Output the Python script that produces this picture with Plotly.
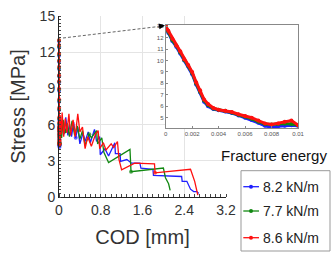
import plotly.graph_objects as go

# ---------------- data ----------------
series_names = ["8.2 kN/m", "7.7 kN/m", "8.6 kN/m"]
series_colors = ["#1f1fff", "#118811", "#ff1010"]

# early (post-peak, zoomed) part, COD in mm
early_x = [0, 0.0002, 0.0005, 0.0008, 0.0011, 0.0014, 0.0017, 0.002, 0.0023, 0.0026,
           0.0029, 0.0032, 0.0036, 0.004, 0.0045, 0.005, 0.0055, 0.006, 0.0065, 0.007,
           0.0075, 0.008, 0.0085, 0.009, 0.0095, 0.01]
blue_early_y = [12.9, 12.4, 11.7, 11.2, 10.6, 10.0, 9.5, 8.8, 7.9, 7.2, 6.4, 6.0, 5.75,
                5.65, 5.55, 5.4, 5.2, 5.0, 4.8, 4.55, 4.3, 4.15, 4.25, 4.3, 4.35, 4.3]
green_early_y = [13.0, 12.5, 11.8, 11.3, 10.7, 10.05, 9.55, 8.9, 8.0, 7.3, 6.5, 6.1, 5.8,
                 5.7, 5.6, 5.45, 5.25, 5.1, 4.9, 4.65, 4.45, 4.4, 4.45, 4.5, 4.45, 4.35]
red_early_y = [13.0, 12.6, 11.9, 11.3, 10.8, 10.1, 9.6, 9.0, 8.1, 7.4, 6.6, 6.2, 5.85,
               5.7, 5.6, 5.5, 5.3, 5.15, 5.0, 4.75, 4.5, 4.4, 4.5, 4.65, 4.75, 4.35]

# later (softening) part
blue_late_x = [0.02, 0.04, 0.07, 0.10, 0.13, 0.17, 0.20, 0.24, 0.28, 0.32, 0.36, 0.40, 0.46,
               0.50, 0.56, 0.60, 0.68, 0.72, 0.78, 0.79, 0.88, 0.95, 1.07, 1.08, 1.17, 1.18,
               1.30, 1.39, 1.55, 1.57, 1.80, 1.81, 2.35, 2.36, 2.45, 2.52, 2.58, 2.64, 2.68]
blue_late_y = [6.4, 5.0, 6.3, 5.2, 6.6, 5.1, 6.0, 5.0, 6.2, 4.9, 5.8, 4.4, 5.3,
               4.6, 5.4, 4.5, 5.6, 4.6, 5.0, 3.5, 4.0, 3.4, 4.5, 3.6, 3.6, 2.95,
               3.1, 2.8, 2.8, 2.4, 2.3, 1.8, 1.7, 1.3, 1.3, 0.65, 0.45, 0.45, 0.3]
green_late_x = [0.02, 0.05, 0.08, 0.12, 0.16, 0.20, 0.25, 0.30, 0.35, 0.40, 0.45, 0.50, 0.58,
                0.62, 0.72, 0.74, 0.82, 0.86, 0.95, 1.36, 1.38, 2.00, 2.04, 2.10, 2.13]
green_late_y = [6.0, 4.9, 6.4, 5.3, 6.1, 5.0, 6.3, 5.1, 5.9, 4.8, 5.5, 4.3, 5.2,
                4.9, 5.5, 4.4, 4.9, 3.7, 2.85, 3.95, 2.1, 2.4, 1.6, 1.1, 0.55]
red_late_x = [0.02, 0.04, 0.06, 0.09, 0.12, 0.15, 0.19, 0.22, 0.27, 0.31, 0.36, 0.40, 0.45,
              0.50, 0.55, 0.62, 0.70, 0.75, 0.78, 0.85, 0.90, 1.00, 1.05, 1.12, 1.15, 1.20,
              1.45, 1.83, 1.84, 2.52, 2.60, 2.64, 2.66]
red_late_y = [6.8, 5.2, 7.0, 5.0, 6.5, 5.3, 6.9, 5.1, 6.4, 5.0, 6.9, 5.4, 5.8,
              4.0, 5.0, 4.2, 5.2, 5.5, 4.0, 4.5, 3.9, 4.4, 4.1, 4.6, 3.1, 2.25,
              2.8, 2.75, 2.0, 2.3, 1.3, 0.4, 0.15]

# main-panel markers on the late part (index of marked points)
blue_marks = [9]
green_marks = [12, 20]
red_marks = [28]

x_ticks_main = [0, 0.8, 1.6, 2.4, 3.2]
y_ticks_main = [0, 3, 6, 9, 12, 15]
x_ticks_inset = [0, 0.002, 0.004, 0.006, 0.008, 0.01]
x_ticks_inset_text = ["0", "0.002", "0.004", "0.006", "0.008", "0.01"]
y_ticks_inset = [5, 6, 7, 8, 9, 10, 11, 12, 13]

legend_title = "Fracture energy"
x_title = "COD [mm]"
y_title = "Stress [MPa]"

# ---------------- figure ----------------
W, H = 332, 257
ML, MR, MT, MB = 59, 34, 16, 60
PW, PH = W - ML - MR, H - MT - MB


def px(xp):
    return (xp - ML) / PW


def py(yp):
    return (H - MB - yp) / PH


fig = go.Figure()

early_ys = [blue_early_y, green_early_y, red_early_y]
late_xs = [blue_late_x, green_late_x, red_late_x]
late_ys = [blue_late_y, green_late_y, red_late_y]
marks = [blue_marks, green_marks, red_marks]

for name, col, ey, lx, ly, mk in zip(series_names, series_colors, early_ys, late_xs, late_ys, marks):
    xs = list(early_x) + list(lx)
    ys = list(ey) + list(ly)
    sizes = [4] * len(early_x) + [4 if i in mk else 0 for i in range(len(lx))]
    fig.add_trace(go.Scatter(
        x=xs, y=ys, mode="lines+markers", name=name,
        line=dict(color=col, width=1.3),
        marker=dict(color=col, size=sizes, line=dict(width=0)),
        xaxis="x", yaxis="y", showlegend=False, cliponaxis=False,
    ))

for name, col, ey in zip(series_names, series_colors, early_ys):
    fig.add_trace(go.Scatter(
        x=early_x, y=ey, mode="lines+markers", name=name,
        line=dict(color=col, width=3),
        marker=dict(color=col, size=4, line=dict(width=0)),
        xaxis="x2", yaxis="y2", showlegend=False,
    ))

FONT = "Liberation Sans, Arial, sans-serif"
axis_font = dict(family=FONT, size=14, color="#333333")
title_font = dict(family=FONT, size=20, color="#333333")

fig.update_layout(
    width=W, height=H,
    margin=dict(l=ML, r=MR, t=MT, b=MB, autoexpand=False),
    paper_bgcolor="white", plot_bgcolor="white",
    font=dict(family=FONT, color="#333333"),
    showlegend=False,
    xaxis=dict(
        domain=[0, px(226)], range=[0, 3.2], tickvals=x_ticks_main,
        ticktext=[("%g" % v) for v in x_ticks_main],
        showgrid=True, gridcolor="#e4e4e4", gridwidth=1, zeroline=False,
        showline=True, linecolor="#222222", linewidth=1,
        ticks="", tickfont=axis_font,
        minor=dict(dtick=0.1, ticks="inside", ticklen=3, tickcolor="#444444", showgrid=False),
        title=dict(text=x_title, font=title_font, standoff=13),
        anchor="y",
    ),
    yaxis=dict(
        domain=[0, 1], range=[0, 15], tickvals=y_ticks_main,
        showgrid=True, gridcolor="#e4e4e4", gridwidth=1, zeroline=False,
        showline=True, linecolor="#222222", linewidth=1,
        ticks="", tickfont=axis_font,
        minor=dict(dtick=0.3, ticks="inside", ticklen=2, tickcolor="#444444", showgrid=False),
        title=dict(text=y_title, font=title_font, standoff=8),
        anchor="x",
    ),
    xaxis2=dict(
        domain=[px(165.7), 1], range=[0, 0.01], tickvals=x_ticks_inset,
        ticktext=x_ticks_inset_text,
        showgrid=False, zeroline=False, showline=True, mirror=True,
        linecolor="#888888", linewidth=1, ticks="inside", ticklen=2, tickcolor="#888888",
        tickfont=dict(family=FONT, size=6, color="#555555"),
        anchor="y2",
    ),
    yaxis2=dict(
        domain=[py(128), py(25)], range=[4.1, 13.1], tickvals=y_ticks_inset,
        showgrid=False, zeroline=False, showline=True, mirror=True,
        linecolor="#888888", linewidth=1, ticks="inside", ticklen=2, tickcolor="#888888",
        tickfont=dict(family=FONT, size=6, color="#555555"),
        anchor="x2",
    ),
)

# dashed connector from main peak to inset corner
fig.add_shape(type="line", xref="paper", yref="paper",
              x0=px(63), y0=py(38), x1=px(163), y1=py(26),
              line=dict(color="#666666", width=1, dash="3px,2px"))
fig.add_annotation(xref="paper", yref="paper", x=px(165), y=py(25.5), text="",
                   showarrow=True, arrowhead=2, arrowsize=1, arrowwidth=1.2,
                   arrowcolor="black", ax=-7, ay=1)

# legend (title above a framed box)
fig.add_annotation(xref="paper", yref="paper", x=px(274), y=py(155),
                   text=legend_title, showarrow=False, xanchor="center", yanchor="middle",
                   font=dict(family=FONT, size=15, color="#111111"))
fig.add_shape(type="rect", xref="paper", yref="paper",
              x0=px(241), x1=px(330), y0=py(251), y1=py(170.7),
              line=dict(color="#999999", width=1), fillcolor="white", layer="above")
item_y = [186.7, 211, 237.7]
for name, col, iy in zip(series_names, series_colors, item_y):
    fig.add_shape(type="line", xref="paper", yref="paper",
                  x0=px(243.3), x1=px(259), y0=py(iy), y1=py(iy),
                  line=dict(color=col, width=1.3), layer="above")
    fig.add_shape(type="circle", xref="paper", yref="paper",
                  x0=px(249), x1=px(253), y0=py(iy + 2), y1=py(iy - 2),
                  line=dict(color=col, width=0), fillcolor=col, layer="above")
    fig.add_annotation(xref="paper", yref="paper", x=px(260.5), y=py(iy),
                       text=name, showarrow=False, xanchor="left", yanchor="middle",
                       font=dict(family=FONT, size=14, color="#222222"))

fig.write_html("out.html", config={"displayModeBar": False},
               post_script="document.body.style.margin='0';")
